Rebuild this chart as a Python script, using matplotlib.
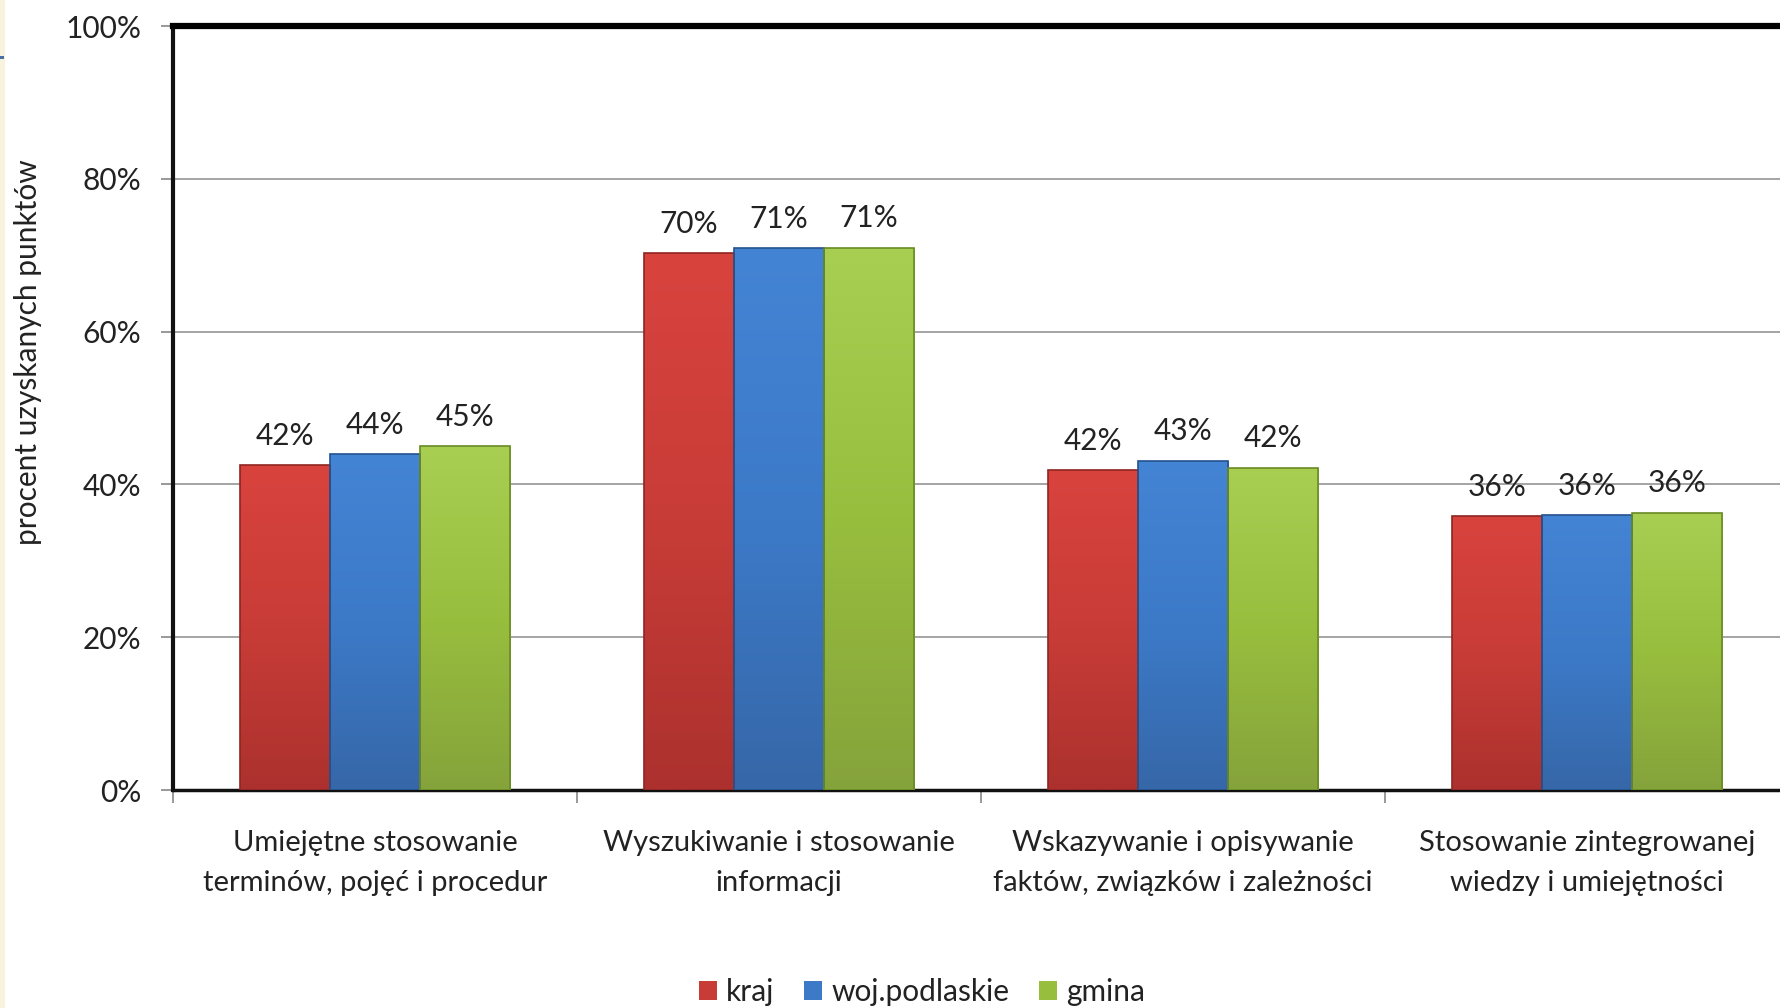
import matplotlib.pyplot as plt
import numpy as np
from matplotlib.patches import Rectangle
from matplotlib.colors import LinearSegmentedColormap

plt.rcParams['font.family'] = ['Lato', 'DejaVu Sans']

kategorie = ['Umiejętne stosowanie\nterminów, pojęć i procedur',
             'Wyszukiwanie i stosowanie\ninformacji',
             'Wskazywanie i opisywanie\nfaktów, związków i zależności',
             'Stosowanie zintegrowanej\nwiedzy i umiejętności']
serie = ['kraj', 'woj.podlaskie', 'gmina']
kraj = [42.5, 70.3, 41.9, 35.8]
woj = [44.0, 70.9, 43.1, 36.0]
gmina = [45.0, 71.0, 42.2, 36.3]
etykiety_kraj = ['42%', '70%', '42%', '36%']
etykiety_woj = ['44%', '71%', '43%', '36%']
etykiety_gmina = ['45%', '71%', '42%', '36%']

kolory = ['#C83C37', '#3C7AC8', '#98BE3E']
gora = ['#D9433E', '#4484D4', '#A8CF52']
dol = ['#AC312E', '#3667A8', '#85A33B']
krawedzie = ['#8E2522', '#24528E', '#6A8A25']

fig = plt.figure(figsize=(17.8, 10.08), dpi=100)
ax = fig.add_axes([173 / 1780, 218 / 1008, 1616 / 1780, 764 / 1008])

x = np.arange(len(kategorie)) + 0.5
w = 0.223
dane = [kraj, woj, gmina]
etykiety = [etykiety_kraj, etykiety_woj, etykiety_gmina]
grad = np.linspace(0, 1, 256).reshape(-1, 1)
for i, (vals, labs) in enumerate(zip(dane, etykiety)):
    pos = x + (i - 1) * w
    bars = ax.bar(pos, vals, width=w, color=kolory[i], linewidth=0,
                  label=serie[i], zorder=3)
    cmap = LinearSegmentedColormap.from_list('g%d' % i, [dol[i], kolory[i], gora[i]])
    for b in bars:
        im = ax.imshow(grad, cmap=cmap, aspect='auto', origin='lower', zorder=3.5,
                       extent=(b.get_x(), b.get_x() + b.get_width(), 0, b.get_height()))
        im.set_clip_path(b)
    ax.bar(pos, vals, width=w, fill=False, edgecolor=krawedzie[i], linewidth=1.2, zorder=4)
    for px, v, t in zip(pos, vals, labs):
        ax.annotate(t, (px, v), xytext=(0, 11), textcoords='offset points',
                    ha='center', va='bottom', fontsize=21.5, color='#222222')

ax.set_xlim(0, 4)
ax.set_ylim(0, 100)
ax.set_aspect('auto')
ax.set_yticks(np.arange(0, 101, 20))
ax.set_yticklabels([f'{v}%' for v in range(0, 101, 20)])
ax.set_xticks(np.arange(0, 5))
ax.set_xticklabels([])
ax.set_xticks(x, minor=True)
ax.set_xticklabels(kategorie, minor=True, fontsize=21, color='#222222', linespacing=1.65)
ax.tick_params(axis='x', which='minor', length=0, pad=29)
ax.tick_params(axis='x', which='major', length=9, color='#888888', width=1.2)
ax.tick_params(axis='y', length=9, color='#888888', width=1.2, labelsize=21.5,
               labelcolor='#222222', pad=14)
ax.grid(axis='y', color='#8C8C8C', linewidth=1.1, zorder=0)

ax.spines['top'].set_linewidth(4.5)
ax.spines['top'].set_color('black')
ax.spines['left'].set_linewidth(3.0)
ax.spines['left'].set_color('#111111')
ax.spines['bottom'].set_linewidth(2.5)
ax.spines['bottom'].set_color('#111111')
ax.spines['right'].set_visible(False)

fig.text(28 / 1780, 1 - 352 / 1008, 'procent uzyskanych punktów', rotation=90,
         ha='center', va='center', fontsize=21.5, color='#222222')

# kremowy pasek slajdu po lewej
fig.patches.append(Rectangle((0, 0), 5 / 1780, 1, transform=fig.transFigure,
                             facecolor='#F8F3DC', edgecolor='none', zorder=0))
fig.patches.append(Rectangle((0, 1 - 59 / 1008), 4 / 1780, 3 / 1008, transform=fig.transFigure,
                             facecolor='#4A6FA5', edgecolor='none', zorder=1))

leg = fig.legend(loc='center', bbox_to_anchor=(922 / 1780, 1 - 992 / 1008), ncol=3,
                 frameon=False, fontsize=21.5, handlelength=0.6, handleheight=0.6,
                 handletextpad=0.3, columnspacing=1.0)
for t in leg.get_texts():
    t.set_color('#222222')

fig.savefig('out.png', dpi=100)
